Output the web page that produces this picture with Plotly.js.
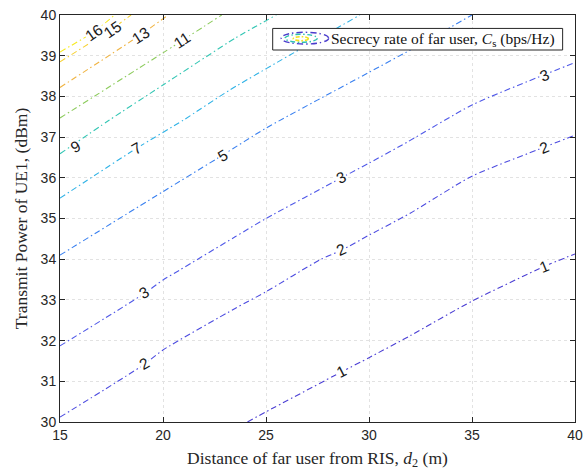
<!DOCTYPE html>
<html>
<head>
<meta charset="utf-8">
<script src="https://cdn.plot.ly/plotly-3.0.1.min.js"></script>
<style>html,body{margin:0;padding:0;background:#fff;}#chart{width:587px;height:473px;}</style>
</head>
<body>
<div id="chart"></div>
<script>
// Contour levels (secrecy rate, bps/Hz) and their traced iso-lines (x: d2 in m, y: power in dBm)
const levels = [1, 2, 3, 5, 7, 9, 11, 13, 15, 16];
const x1 = [24.1, 25, 28.7, 30, 32, 35, 38.5, 40];
const y1 = [30.0, 30.25, 31.24, 31.58, 32.12, 32.97, 33.82, 34.13];
const x2 = [15, 19.1, 20, 23.5, 25, 27.6, 28.7, 30, 32, 35, 38.5, 40];
const y2 = [30.12, 31.42, 31.77, 32.79, 33.2, 33.98, 34.23, 34.59, 35.13, 36.04, 36.75, 37.05];
const x3 = [15, 19.1, 20, 20.8, 23.5, 25, 28.7, 30, 31.9, 35, 38.5, 40];
const y3 = [31.87, 33.16, 33.49, 33.73, 34.55, 35.0, 36.01, 36.36, 36.89, 37.79, 38.53, 38.83];
const x5 = [15, 20, 22.9, 25, 30, 32, 35];
const y5 = [34.1, 35.66, 36.56, 37.22, 38.59, 39.14, 40];
const x7 = [15, 18.7, 21, 23.25, 29.56];
const y7 = [35.5, 36.72, 37.42, 38.16, 40];
const x9 = [15, 17.4, 20, 23.5, 25.5];
const y9 = [36.59, 37.42, 38.28, 39.43, 40];
const x11 = [15, 20, 22.85];
const y11 = [37.47, 39.07, 40];
const x13 = [15, 18.9, 20.25];
const y13 = [38.22, 39.51, 40];
const x15 = [15, 17.5, 18.45];
const y15 = [38.85, 39.65, 40];
const x16 = [15, 16.75, 17.65];
const y16 = [39.09, 39.62, 40];

// Contour labels
const labelText = ['15', '16', '13', '11', '9', '7', '5', '3', '2', '3', '2', '1', '3', '2', '1'];
const labelX = [17.55, 16.65, 18.9, 20.9, 15.75, 18.7, 22.9, 19.1, 19.1, 28.65, 28.65, 28.65, 38.5, 38.5, 38.5];
const labelY = [39.64, 39.58, 39.5, 39.38, 36.78, 36.73, 36.56, 33.17, 31.43, 36.0, 34.23, 31.24, 38.52, 36.74, 33.82];
const labelAngle = [-35, -35, -33, -33, -30, -30, -30, -30, -30, -27, -25, -27, -22, -22, -22];

const legendText = 'Secrecy rate of far user, <i>C</i><sub>s</sub> (bps/Hz)';

const lineX = [x1, x2, x3, x5, x7, x9, x11, x13, x15, x16];
const lineY = [y1, y2, y3, y5, y7, y9, y11, y13, y15, y16];
const colors = ['#4b3fd4', '#4c4be0', '#4f58e8', '#3a80f0', '#2fb2e6', '#33c6b4', '#8ccb5c', '#f0b443', '#f7d235', '#f7ea1e'];
const DASH = '6px,3px,1.5px,3px';

const traces = levels.map((lv, i) => ({
  type: 'scatter', mode: 'lines', x: lineX[i], y: lineY[i],
  name: 'C_s = ' + lv, showlegend: false, hoverinfo: 'skip',
  line: {color: colors[i], width: 1.1, dash: DASH, shape: 'spline', smoothing: 0.6}
}));

const annotations = labelText.map((t, i) => ({
  x: labelX[i], y: labelY[i], xref: 'x', yref: 'y', text: t, showarrow: false,
  textangle: labelAngle[i], bgcolor: '#ffffff', borderpad: 0,
  font: {family: 'Liberation Sans, Arial, sans-serif', size: 15.5, color: '#1a1a1a'}
}));
annotations.push({
  x: 0.5223, y: 0.941, xref: 'paper', yref: 'paper', xanchor: 'left', yanchor: 'middle',
  text: legendText, showarrow: false,
  font: {family: 'Liberation Serif, Times New Roman, serif', size: 15.5, color: '#111'}
});

const shapes = [
  {type: 'rect', xref: 'paper', yref: 'paper', x0: 0.413, x1: 0.976, y0: 0.914, y1: 0.967,
   line: {color: '#262626', width: 1}, fillcolor: '#ffffff', layer: 'above'},
  {type: 'circle', xref: 'paper', yref: 'paper', x0: 0.4295, x1: 0.5216, y0: 0.9287, y1: 0.9575,
   line: {color: '#4a3ccc', width: 1.4, dash: '6px,3px,1.5px,3px'}, layer: 'above'},
  {type: 'circle', xref: 'paper', yref: 'paper', x0: 0.4369, x1: 0.4996, y0: 0.9329, y1: 0.9526,
   line: {color: '#2ec0b0', width: 1.4, dash: '5px,2.5px,1.5px,2.5px'}, layer: 'above'},
  {type: 'circle', xref: 'paper', yref: 'paper', x0: 0.453, x1: 0.4821, y0: 0.9369, y1: 0.9467,
   line: {color: '#f2e21a', width: 1.6, dash: '4px,2px,1.5px,2px'}, layer: 'above'}
];

const axisCommon = {
  showline: true, linecolor: '#262626', linewidth: 1, mirror: 'ticks',
  ticks: 'inside', ticklen: 5, tickcolor: '#262626', tickwidth: 1,
  showgrid: true, gridcolor: '#e2e2e2', griddash: 'dot', gridwidth: 1,
  zeroline: false, automargin: false,
  tickfont: {family: 'Liberation Sans, Arial, sans-serif', size: 14, color: '#262626'}
};

const layout = {
  width: 587, height: 473,
  margin: {l: 60, r: 12, t: 15, b: 51},
  paper_bgcolor: '#ffffff', plot_bgcolor: '#ffffff',
  showlegend: false,
  xaxis: Object.assign({}, axisCommon, {
    range: [15, 40], dtick: 5, tick0: 15,
    title: {text: 'Distance of far user from RIS, <i>d</i><sub>2</sub> (m)', standoff: 9,
            font: {family: 'Liberation Serif, Times New Roman, serif', size: 17.5, color: '#262626'}}
  }),
  yaxis: Object.assign({}, axisCommon, {
    range: [30, 40], dtick: 1, tick0: 30,
    title: {text: 'Transmit Power of UE1, (dBm)', standoff: 8,
            font: {family: 'Liberation Serif, Times New Roman, serif', size: 17.5, color: '#262626'}}
  }),
  annotations: annotations,
  shapes: shapes
};

Plotly.newPlot('chart', traces, layout, {staticPlot: true, displayModeBar: false});
</script>
</body>
</html>
